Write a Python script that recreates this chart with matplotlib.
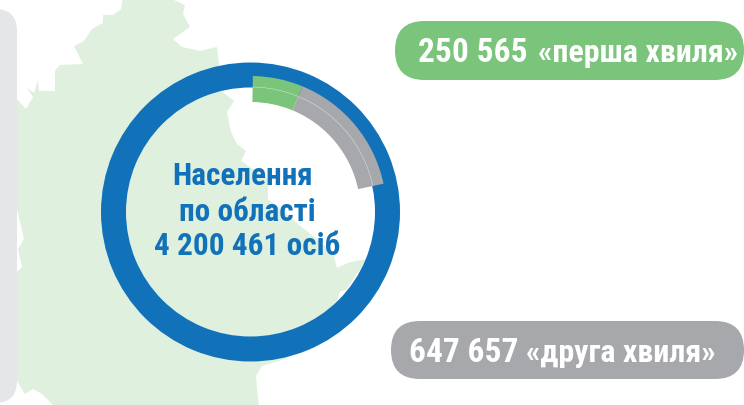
import numpy as np
import matplotlib
matplotlib.use("Agg")
import matplotlib.pyplot as plt
from matplotlib.patches import Polygon, FancyBboxPatch

# data
total_population = 4200461
wave_values = [250565, 647657]
wave_labels = ["«перша хвиля»", "«друга хвиля»"]
wave_numbers = ["250 565", "647 657"]
center_lines = ["Населення", "по області", "4 200 461 осіб"]

BLUE = "#1172BA"
GREEN = "#7AC47C"
GRAY = "#A7A8AC"
MAP = "#DFF0DF"
PANEL = "#E5E6E8"
W, H = 744, 406
FONT = ["Roboto Condensed", "Roboto", "DejaVu Sans"]

fig = plt.figure(figsize=(W / 100, H / 100), dpi=100)
ax = fig.add_axes([0, 0, 1, 1])


def up(pts):
    return [(x, H - y) for x, y in pts]


# background map outline (pixel coordinates from the top left)
map_outline = [
    (123, -2), (121, 10), (113, 16), (103, 16), (103, 24), (92, 30), (88, 36), (84, 42),
    (74, 47), (83, 65), (60, 66), (55, 72), (55, 92), (39, 92), (38, 81), (34, 94),
    (27, 89), (33, 98), (26, 110), (17, 100), (10, 100), (10, 210), (17, 210), (24, 240),
    (18, 250), (22, 268), (17, 273), (10, 273), (10, 380), (17, 382), (25, 395), (33, 390),
    (42, 395), (55, 408), (259, 408), (257, 390), (256, 377), (262, 367), (285, 360),
    (330, 312), (337, 303), (340, 293), (347, 290), (367, 260), (350, 263), (337, 269),
    (333, 253), (298, 225), (283, 212), (268, 200), (268, 180), (241, 162), (246, 152),
    (237, 145), (231, 133), (227, 113), (234, 102), (219, 90), (219, 65), (217, 48),
    (200, 52), (182, 48), (173, 40), (190, 28), (183, 15), (185, 6), (167, -2),
]
ax.add_patch(Polygon(up(map_outline), closed=True, fc=MAP, ec="none", zorder=1))

# left panel
ax.add_patch(FancyBboxPatch((-60, H - 404), 77, 394, boxstyle="round,pad=0,rounding_size=22",
                            fc=PANEL, ec="none", zorder=2))

# rings
cx, cy = 250.5, H - 213
ax.pie([total_population], colors=[BLUE], radius=149.5, center=(cx, cy), startangle=90,
       wedgeprops=dict(width=25, linewidth=0), normalize=True)
rest = total_population - sum(wave_values)
wedges, _ = ax.pie(wave_values + [rest], colors=[GREEN, GRAY, "none"], radius=136, center=(cx, cy),
                   startangle=89, counterclock=False, wedgeprops=dict(width=26, linewidth=0))
wedges[2].set_visible(False)
frac = sum(wave_values) / total_population
theta = np.radians(89 - 360 * np.linspace(0, frac, 100))
ax.plot(cx + 125 * np.cos(theta), cy + 125 * np.sin(theta), color="white", lw=0.4, alpha=0.6, zorder=5)

# centre text
for line, base, xc in zip(center_lines, [185, 221, 255], [243, 247, 247.5]):
    ax.text(xc, H - base, line, color=BLUE, fontsize=22.5, fontweight="bold", family=FONT,
            ha="center", va="baseline", zorder=6)

# pills
pills = [(395, 22, 349, 59, GREEN), (391, 322, 353, 58, GRAY)]
num_x = [418, 409]
lab_x = [538, 526]
bases = [62, 362]
for (x, y, w, h, c), num, lab, nx, lx, b in zip(pills, wave_numbers, wave_labels, num_x, lab_x, bases):
    ax.add_patch(FancyBboxPatch((x, H - y - h), w, h, boxstyle=f"round,pad=0,rounding_size={h / 2}",
                                fc=c, ec="none", zorder=3))
    ax.text(nx, H - b, num, color="white", fontsize=24, fontweight="bold", family=FONT, va="baseline", zorder=6)
    ax.text(lx, H - b, lab, color="white", fontsize=23, fontweight="bold", family=FONT, va="baseline", zorder=6)

ax.set_xlim(0, W)
ax.set_ylim(0, H)
ax.set_aspect("auto")
ax.axis("off")
fig.savefig("out.png", dpi=100)
